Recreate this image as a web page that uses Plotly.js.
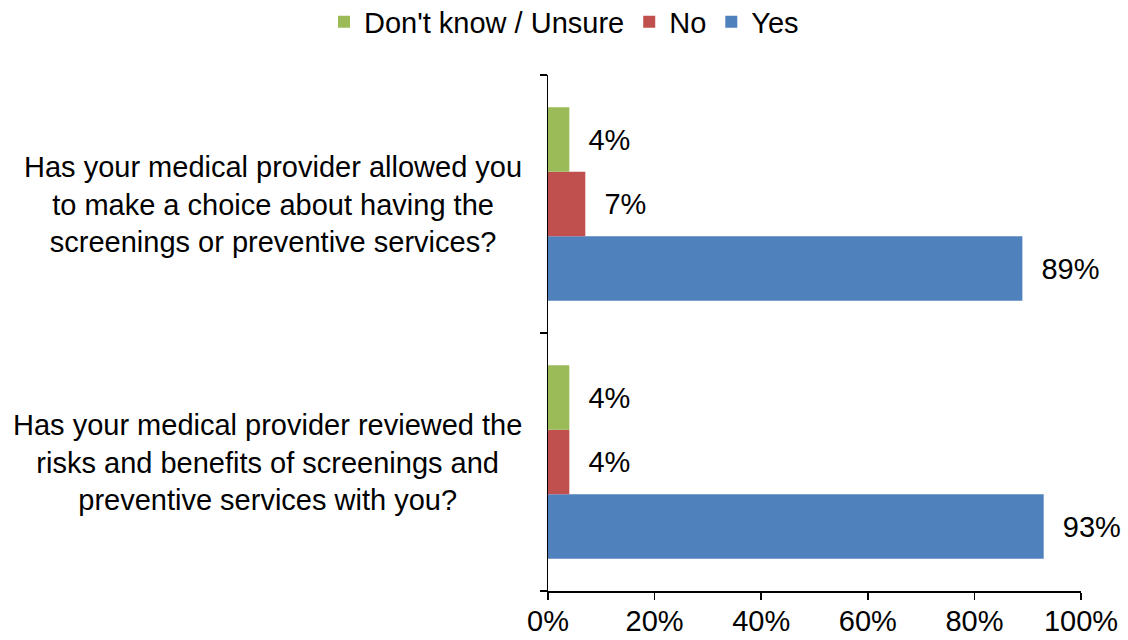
<!DOCTYPE html>
<html>
<head>
<meta charset="utf-8">
<script src="https://cdn.plot.ly/plotly-3.0.1.min.js"></script>
<style>html,body{margin:0;padding:0;background:#fff;}#chart{width:1128px;height:640px;}</style>
</head>
<body>
<div id="chart"></div>
<script>
// Categories (bottom to top as drawn)
var categories = ["reviewed", "allowed"];
var categoryLabels = [
  "Has your medical provider reviewed the<br>risks and benefits of screenings and<br>preventive services with you?",
  "Has your medical provider allowed you<br>to make a choice about having the<br>screenings or preventive services?"
];
var yesValues = [93, 89];
var noValues = [4, 7];
var dontKnowValues = [4, 4];
var xTickVals = [0, 20, 40, 60, 80, 100];
var xTickText = ["0%", "20%", "40%", "60%", "80%", "100%"];

var font = "Liberation Sans, Arial, sans-serif";
var fs = 29;

function mk(name, vals, color) {
  return {
    type: "bar", orientation: "h", name: name,
    y: categories, x: vals,
    marker: {color: color},
    text: vals.map(function(v){ return v + "%"; }),
    texttemplate: "  %{text}",
    textposition: "outside",
    textfont: {family: font, size: fs, color: "#000"},
    cliponaxis: false,
    hoverinfo: "x+name"
  };
}

var data = [
  mk("Yes", yesValues, "#4F81BD"),
  mk("No", noValues, "#C0504D"),
  mk("Don't know / Unsure", dontKnowValues, "#9BBB59")
];

var annotations = categories.map(function(c, i){
  return {
    xref: "paper", yref: "y", x: 0, y: c,
    xanchor: "right", yanchor: "middle", xshift: -24,
    align: "center", showarrow: false,
    text: categoryLabels[i],
    font: {family: font, size: fs, color: "#000"}
  };
});

var layout = {
  width: 1128, height: 640,
  margin: {l: 548, r: 47, t: 75, b: 49},
  paper_bgcolor: "#fff", plot_bgcolor: "#fff",
  font: {family: font, size: fs, color: "#000"},
  barmode: "group",
  bargap: 0.25,
  bargroupgap: 0,
  showlegend: true,
  annotations: annotations,
  legend: {
    orientation: "h", traceorder: "reversed",
    xref: "container", yref: "container",
    x: 0.5, xanchor: "center", y: 0.9656, yanchor: "middle",
    font: {family: font, size: fs, color: "#000"},
    itemwidth: 30
  },
  xaxis: {
    range: [0, 100], tickvals: xTickVals, ticktext: xTickText,
    showgrid: false, zeroline: false,
    showline: true, linecolor: "#000", linewidth: 1.5,
    ticks: "outside", ticklen: 7, tickcolor: "#000", tickwidth: 1.5,
    ticklabelstandoff: -3,
    tickfont: {family: font, size: fs, color: "#000"},
    fixedrange: true
  },
  yaxis: {
    type: "category",
    categoryorder: "array", categoryarray: categories,
    tickson: "boundaries",
    showticklabels: false,
    showgrid: false, zeroline: false,
    showline: true, linecolor: "#000", linewidth: 1.5,
    ticks: "outside", ticklen: 7, tickcolor: "#000", tickwidth: 1.5,
    fixedrange: true
  }
};

Plotly.newPlot("chart", data, layout, {displayModeBar: false, staticPlot: true});
</script>
</body>
</html>
